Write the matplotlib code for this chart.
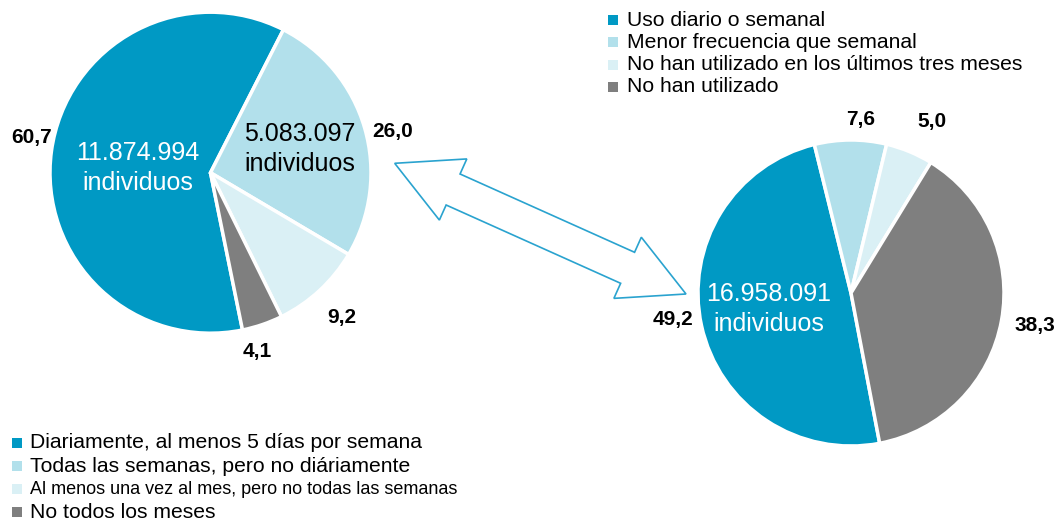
import numpy as np
import matplotlib
matplotlib.use("Agg")
import matplotlib.pyplot as plt
from matplotlib.patches import Polygon

plt.rcParams['font.family'] = ['Liberation Sans', 'DejaVu Sans']

# left pie: frequency of use among users
left_values = [60.7, 26.0, 9.2, 4.1]
left_labels = ["60,7", "26,0", "9,2", "4,1"]
left_legend = ["Diariamente, al menos 5 días por semana",
               "Todas las semanas, pero no diáriamente",
               "Al menos una vez al mes, pero no todas las semanas",
               "No todos los meses"]

# right pie: use overall
right_values = [49.2, 7.6, 5.0, 38.3]
right_labels = ["49,2", "7,6", "5,0", "38,3"]
right_legend = ["Uso diario o semanal",
                "Menor frecuencia que semanal",
                "No han utilizado en los últimos tres meses",
                "No han utilizado"]

colors = ["#0099c4", "#b2e0eb", "#daf0f5", "#7f7f7f"]

W, H = 1063, 528
fig = plt.figure(figsize=(W / 100, H / 100), dpi=100)
ax = fig.add_axes([0, 0, 1, 1])


def Y(y):
    return H - y


wp = dict(edgecolor="white", linewidth=2.5)
ax.pie(left_values, colors=colors, center=(210.5, Y(172.7)), radius=160.5,
       startangle=281.5, counterclock=False, wedgeprops=wp)
ax.pie(right_values, colors=colors, center=(851, Y(293)), radius=153,
       startangle=280.8, counterclock=False, wedgeprops=wp)

ax.set_xlim(0, W)
ax.set_ylim(0, H)
ax.set_aspect("auto")
ax.axis("off")

# value labels
lab_font = dict(fontsize=15, fontweight="bold", color="black", ha="center", va="center")
for txt, (x, y) in zip(left_labels, [(32, 137), (393, 131), (342, 318), (257, 352)]):
    ax.text(x, Y(y), txt, **lab_font)
for txt, (x, y) in zip(right_labels, [(673, 320), (861, 119), (932, 122), (1035, 325)]):
    ax.text(x, Y(y), txt, **lab_font)

# totals inside the pies
ax.text(138, Y(168), "11.874.994\nindividuos", color="white", fontsize=18,
        ha="center", va="center", linespacing=1.3)
ax.text(300, Y(149), "5.083.097\nindividuos", color="black", fontsize=18,
        ha="center", va="center", linespacing=1.3)
ax.text(769, Y(309), "16.958.091\nindividuos", color="white", fontsize=18,
        ha="center", va="center", linespacing=1.3)

# hollow double arrow between the pies
p0 = np.array([394.7, Y(163.3)])
p1 = np.array([686.0, Y(294.0)])
u = (p1 - p0) / np.linalg.norm(p1 - p0)
n = np.array([-u[1], u[0]])
hl, hw, sw = 64, 33.5, 17
pts = [p0,
       p0 + u * hl + n * hw, p0 + u * hl + n * sw,
       p1 - u * hl + n * sw, p1 - u * hl + n * hw,
       p1,
       p1 - u * hl - n * hw, p1 - u * hl - n * sw,
       p0 + u * hl - n * sw, p0 + u * hl - n * hw]
ax.add_patch(Polygon(pts, closed=True, facecolor="white", edgecolor="#2aa3cf", linewidth=1.2))

# legends
for i, txt in enumerate(right_legend):
    yy = Y(20 + i * 22.3)
    ax.scatter([612.5], [yy], marker="s", s=55, color=colors[i], linewidths=0)
    ax.text(627, yy, txt, fontsize=15.2, ha="left", va="center")

for i, txt in enumerate(left_legend):
    yy = Y(443 + i * 23)
    ax.scatter([16.5], [yy], marker="s", s=55, color=colors[i], linewidths=0)
    size = 13 if i == 2 else 15.2
    ax.text(30, yy, txt, fontsize=size, ha="left", va="center")

fig.savefig("out.png", dpi=100)
